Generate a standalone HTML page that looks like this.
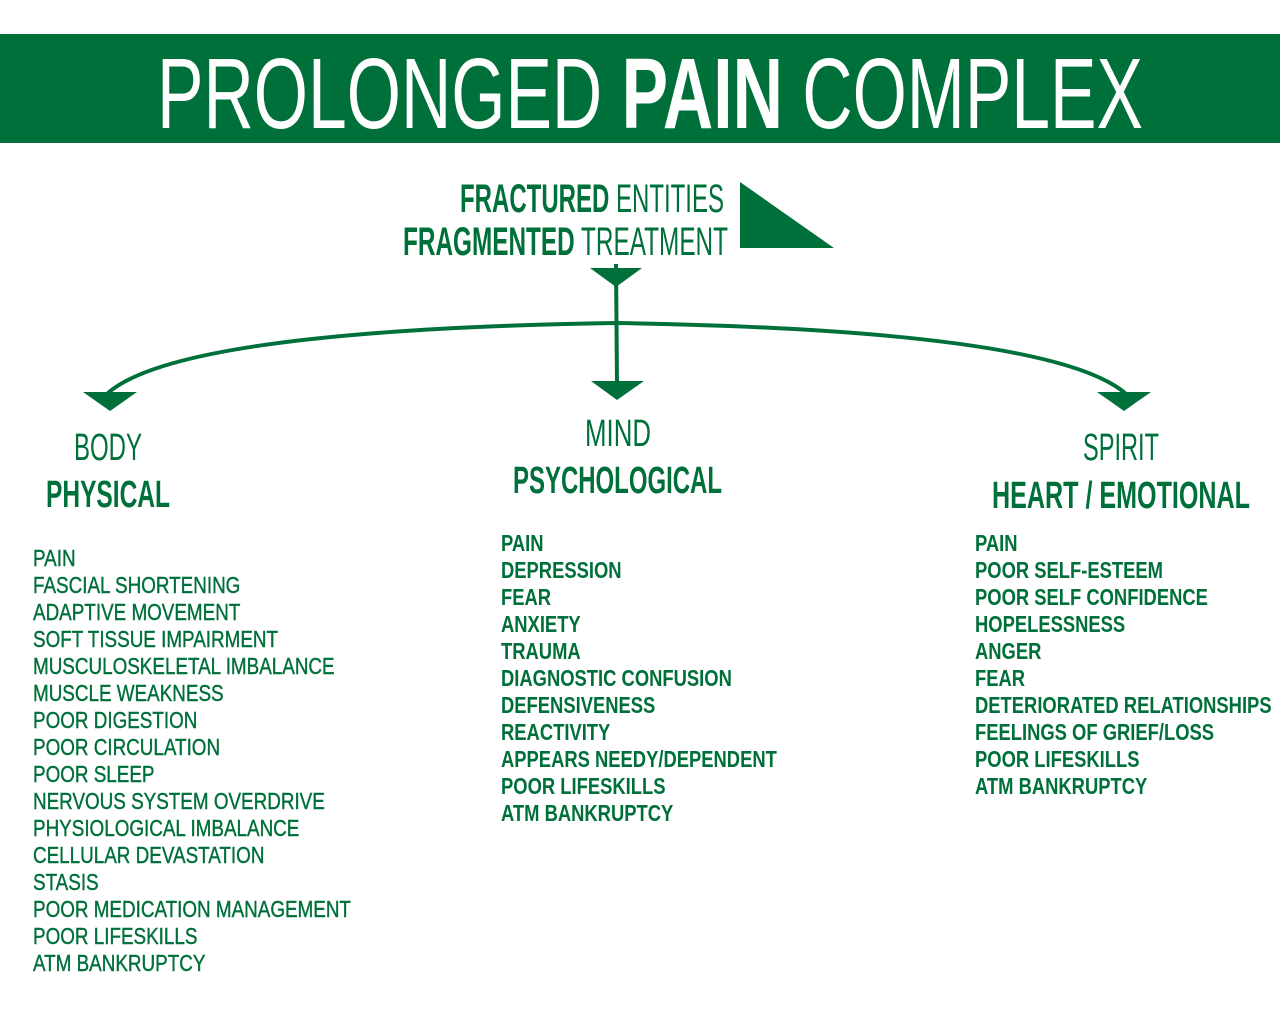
<!DOCTYPE html>
<html><head><meta charset="utf-8"><style>
html,body{margin:0;padding:0;background:#fff;width:1280px;height:1024px;overflow:hidden}
svg{display:block}
text{font-family:"Liberation Sans",sans-serif;fill:#00703a}
</style></head><body>
<svg width="1280" height="1024" viewBox="0 0 1280 1024" xmlns="http://www.w3.org/2000/svg">
<rect x="0" y="34" width="1280" height="109" fill="#00703a"/>
<text x="157" y="128" font-size="100" style="fill:#fff" textLength="986" lengthAdjust="spacingAndGlyphs">PROLONGED <tspan font-weight="bold">PAIN</tspan> COMPLEX</text>

<text x="460" y="212" font-size="40" textLength="264" lengthAdjust="spacingAndGlyphs"><tspan font-weight="bold">FRACTURED</tspan> ENTITIES</text>
<text x="403" y="255" font-size="40" textLength="325" lengthAdjust="spacingAndGlyphs"><tspan font-weight="bold">FRAGMENTED</tspan> TREATMENT</text>
<polygon points="740,182 740,248 834,248" fill="#00703a"/>

<polygon points="590,268 642,268 616,287" fill="#00703a"/>
<line x1="616" y1="264" x2="617" y2="385" stroke="#00703a" stroke-width="4"/>
<polygon points="591,381 644,381 617,400" fill="#00703a"/>
<path d="M108,393 Q180,330 616,323 Q1050,330 1125,393" fill="none" stroke="#00703a" stroke-width="4"/>
<polygon points="83,392 137,392 110,411" fill="#00703a"/>
<polygon points="1097,392 1151,392 1124,411" fill="#00703a"/>

<text x="74" y="460" font-size="38" textLength="68" lengthAdjust="spacingAndGlyphs">BODY</text>
<text x="46" y="507" font-size="38" font-weight="bold" textLength="124" lengthAdjust="spacingAndGlyphs">PHYSICAL</text>
<text x="585" y="446" font-size="38" textLength="66" lengthAdjust="spacingAndGlyphs">MIND</text>
<text x="513" y="493" font-size="38" font-weight="bold" textLength="209" lengthAdjust="spacingAndGlyphs">PSYCHOLOGICAL</text>
<text x="1083" y="460" font-size="38" textLength="76" lengthAdjust="spacingAndGlyphs">SPIRIT</text>
<text x="992" y="508" font-size="38" font-weight="bold" textLength="258" lengthAdjust="spacingAndGlyphs">HEART / EMOTIONAL</text>

<g transform="translate(33,1) scale(0.82,1)" font-size="23" stroke="#00703a" stroke-width="0.4">
<text x="0" y="565">PAIN</text>
<text x="0" y="592">FASCIAL SHORTENING</text>
<text x="0" y="619">ADAPTIVE MOVEMENT</text>
<text x="0" y="646">SOFT TISSUE IMPAIRMENT</text>
<text x="0" y="673">MUSCULOSKELETAL IMBALANCE</text>
<text x="0" y="700">MUSCLE WEAKNESS</text>
<text x="0" y="727">POOR DIGESTION</text>
<text x="0" y="754">POOR CIRCULATION</text>
<text x="0" y="781">POOR SLEEP</text>
<text x="0" y="808">NERVOUS SYSTEM OVERDRIVE</text>
<text x="0" y="835">PHYSIOLOGICAL IMBALANCE</text>
<text x="0" y="862">CELLULAR DEVASTATION</text>
<text x="0" y="889">STASIS</text>
<text x="0" y="916">POOR MEDICATION MANAGEMENT</text>
<text x="0" y="943">POOR LIFESKILLS</text>
<text x="0" y="970">ATM BANKRUPTCY</text>
</g>
<g transform="translate(501,0) scale(0.8,1)" font-size="23" font-weight="bold">
<text x="0" y="551">PAIN</text>
<text x="0" y="578">DEPRESSION</text>
<text x="0" y="605">FEAR</text>
<text x="0" y="632">ANXIETY</text>
<text x="0" y="659">TRAUMA</text>
<text x="0" y="686">DIAGNOSTIC CONFUSION</text>
<text x="0" y="713">DEFENSIVENESS</text>
<text x="0" y="740">REACTIVITY</text>
<text x="0" y="767">APPEARS NEEDY/DEPENDENT</text>
<text x="0" y="794">POOR LIFESKILLS</text>
<text x="0" y="821">ATM BANKRUPTCY</text>
</g>
<g transform="translate(975,0) scale(0.8,1)" font-size="23" font-weight="bold">
<text x="0" y="551">PAIN</text>
<text x="0" y="578">POOR SELF-ESTEEM</text>
<text x="0" y="605">POOR SELF CONFIDENCE</text>
<text x="0" y="632">HOPELESSNESS</text>
<text x="0" y="659">ANGER</text>
<text x="0" y="686">FEAR</text>
<text x="0" y="713">DETERIORATED RELATIONSHIPS</text>
<text x="0" y="740">FEELINGS OF GRIEF/LOSS</text>
<text x="0" y="767">POOR LIFESKILLS</text>
<text x="0" y="794">ATM BANKRUPTCY</text>
</g>
</svg>
</body></html>
